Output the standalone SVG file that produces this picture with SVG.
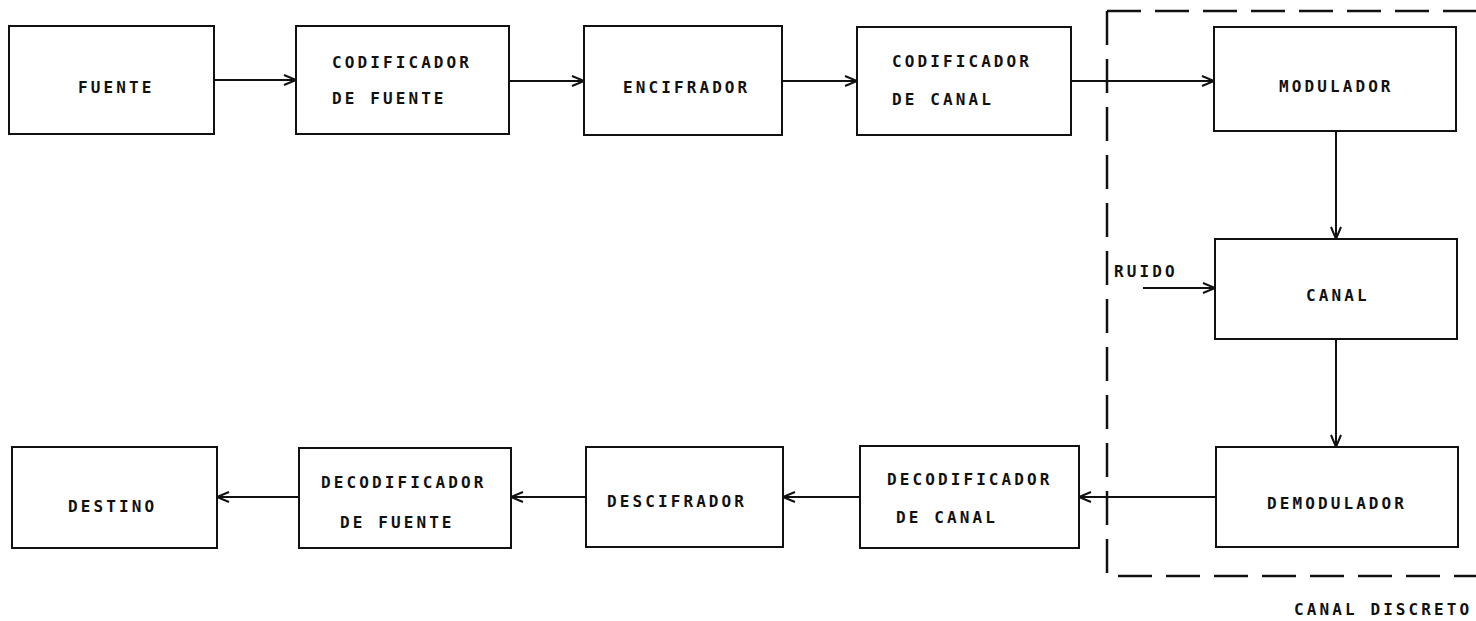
<svg xmlns="http://www.w3.org/2000/svg" width="1476" height="621" viewBox="0 0 1476 621">
<style>
.box{fill:#fff;stroke:#111;stroke-width:2}
.t{font-family:"DejaVu Sans Mono","Liberation Mono",monospace;font-weight:bold;font-size:16px;letter-spacing:3.1px;fill:#111}
.c{fill:none;stroke:#111;stroke-width:2}
.dash{fill:none;stroke:#111;stroke-width:2.5;stroke-dasharray:34 14}
</style>
<defs>
<marker id="ah" markerUnits="userSpaceOnUse" markerWidth="16" markerHeight="14" refX="13" refY="6" orient="auto">
<path d="M1,1 L13,6 L1,11" fill="none" stroke="#111" stroke-width="2"/>
</marker>
</defs>
<rect width="1476" height="621" fill="#fff"/>
<g id="discrete-channel">
<path class="dash" d="M1107,11 H1476"/>
<path class="dash" d="M1107,11 V576 H1476"/>
<text class="t" x="1294" y="615">CANAL DISCRETO</text>
</g>
<g id="connectors">
<line class="c" x1="214" y1="80" x2="296" y2="80" marker-end="url(#ah)"/>
<line class="c" x1="509" y1="81" x2="584" y2="81" marker-end="url(#ah)"/>
<line class="c" x1="782" y1="81" x2="857" y2="81" marker-end="url(#ah)"/>
<line class="c" x1="1071" y1="81" x2="1214" y2="81" marker-end="url(#ah)"/>
<line class="c" x1="1336" y1="131" x2="1336" y2="239" marker-end="url(#ah)"/>
<line class="c" x1="1143" y1="288" x2="1215" y2="288" marker-end="url(#ah)"/>
<line class="c" x1="1336" y1="339" x2="1336" y2="447" marker-end="url(#ah)"/>
<line class="c" x1="1216" y1="497" x2="1079" y2="497" marker-end="url(#ah)"/>
<line class="c" x1="860" y1="497" x2="783" y2="497" marker-end="url(#ah)"/>
<line class="c" x1="586" y1="497" x2="511" y2="497" marker-end="url(#ah)"/>
<line class="c" x1="299" y1="497" x2="217" y2="497" marker-end="url(#ah)"/>
</g>
<g id="fuente">
<rect class="box" x="9" y="26" width="205" height="108"/>
<text class="t" x="78" y="93">FUENTE</text>
</g>
<g id="codificador-fuente">
<rect class="box" x="296" y="26" width="213" height="108"/>
<text class="t" x="332" y="68">CODIFICADOR</text>
<text class="t" x="332" y="104">DE FUENTE</text>
</g>
<g id="encifrador">
<rect class="box" x="584" y="26" width="198" height="109"/>
<text class="t" x="623" y="93">ENCIFRADOR</text>
</g>
<g id="codificador-canal">
<rect class="box" x="857" y="27" width="214" height="108"/>
<text class="t" x="892" y="67">CODIFICADOR</text>
<text class="t" x="892" y="105">DE CANAL</text>
</g>
<g id="modulador">
<rect class="box" x="1214" y="27" width="242" height="104"/>
<text class="t" x="1279" y="92">MODULADOR</text>
</g>
<g id="ruido">
<text class="t" x="1114" y="277">RUIDO</text>
</g>
<g id="canal">
<rect class="box" x="1215" y="239" width="242" height="100"/>
<text class="t" x="1306" y="301">CANAL</text>
</g>
<g id="demodulador">
<rect class="box" x="1216" y="447" width="242" height="100"/>
<text class="t" x="1267" y="509">DEMODULADOR</text>
</g>
<g id="decodificador-canal">
<rect class="box" x="860" y="446" width="219" height="102"/>
<text class="t" x="887" y="485">DECODIFICADOR</text>
<text class="t" x="896" y="523">DE CANAL</text>
</g>
<g id="descifrador">
<rect class="box" x="586" y="447" width="197" height="100"/>
<text class="t" x="607" y="507">DESCIFRADOR</text>
</g>
<g id="decodificador-fuente">
<rect class="box" x="299" y="448" width="212" height="100"/>
<text class="t" x="321" y="488">DECODIFICADOR</text>
<text class="t" x="340" y="528">DE FUENTE</text>
</g>
<g id="destino">
<rect class="box" x="12" y="447" width="205" height="101"/>
<text class="t" x="68" y="512">DESTINO</text>
</g>
</svg>
